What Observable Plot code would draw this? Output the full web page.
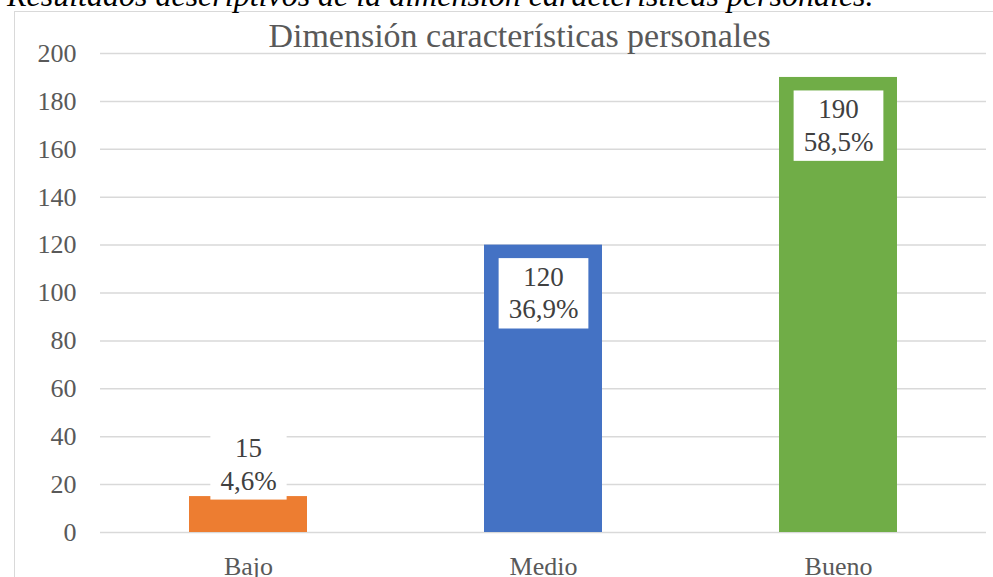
<!DOCTYPE html>
<html><head><meta charset="utf-8">
<script src="https://cdn.jsdelivr.net/npm/d3@7"></script>
<script src="https://cdn.jsdelivr.net/npm/@observablehq/plot@0.6"></script>
<style>
html,body{margin:0;padding:0;background:#fff;overflow:hidden}
#wrap{position:relative;width:993px;height:577px;overflow:hidden;background:#fff}
#frame{position:absolute;left:14px;top:11px;width:1000px;height:600px;border:1.5px solid #d9d9d9;}
#caption{position:absolute;left:7px;top:-21px;font-family:"Liberation Serif",serif;font-style:italic;font-size:32px;line-height:32px;white-space:nowrap;color:#000}
#chart{position:absolute;left:0;top:0}
</style></head><body>
<div id="wrap"><div id="frame"></div><div id="caption">Resultados descriptivos de la dimensión características personales.</div><div id="chart"></div></div>
<script>
const categories = ["Bajo", "Medio", "Bueno"];
const counts = [15, 120, 190];
const percents = ["4,6%", "36,9%", "58,5%"];
const colors = ["#ED7D31", "#4472C4", "#70AD47"];
const yTicks = [0, 20, 40, 60, 80, 100, 120, 140, 160, 180, 200];
const title = "Dimensión características personales";

const data = categories.map((c, i) => ({cat: c, n: counts[i], pct: percents[i]}));
const inside = data.filter(d => d.n >= 50);
const outside = data.filter(d => d.n < 50);
const lab = d => d.n + "\n" + d.pct;

const chart = Plot.plot({
  width: 993, height: 577,
  marginLeft: 100, marginRight: 7, marginTop: 53, marginBottom: 45,
  style: {fontFamily: "'Liberation Serif', serif", fontSize: "26px", color: "#595959", background: "transparent", overflow: "visible"},
  x: {domain: categories, paddingInner: 0.6, paddingOuter: 0.3, label: null, tickSize: 0, tickPadding: 24},
  y: {domain: [0, 200], ticks: yTicks, label: null, tickSize: 0, tickPadding: 24},
  color: {domain: categories, range: colors},
  marks: [
    Plot.ruleY(yTicks, {stroke: "#d9d9d9", strokeWidth: 1.5}),
    Plot.barY(data, {x: "cat", y: "n", fill: "cat"}),
    Plot.text(inside, {x: "cat", y: "n", text: lab, lineAnchor: "top", lineHeight: 1.2, dy: 18, fill: "#404040", fontSize: 27, className: "lbl"}),
    Plot.text(outside, {x: "cat", y: "n", text: lab, lineAnchor: "bottom", lineHeight: 1.2, dy: -7, fill: "#404040", fontSize: 27, className: "lbl"}),
    Plot.text([title], {frameAnchor: "top", lineAnchor: "bottom", dx: -24, dy: -7, fill: "#595959", fontSize: 34})
  ]
});
document.getElementById("chart").appendChild(chart);

// white label boxes behind data labels
d3.select(chart).selectAll("g.lbl text").each(function() {
  const b = this.getBBox();
  const padX = 10, padY = 4;
  const r = document.createElementNS("http://www.w3.org/2000/svg", "rect");
  r.setAttribute("x", b.x - padX);
  r.setAttribute("y", b.y - padY);
  r.setAttribute("width", b.width + 2 * padX);
  r.setAttribute("height", b.height + 2 * padY);
  r.setAttribute("fill", "#fff");
  const t = this.getAttribute("transform");
  if (t) r.setAttribute("transform", t);
  this.parentNode.insertBefore(r, this);
});
</script>
</body></html>
